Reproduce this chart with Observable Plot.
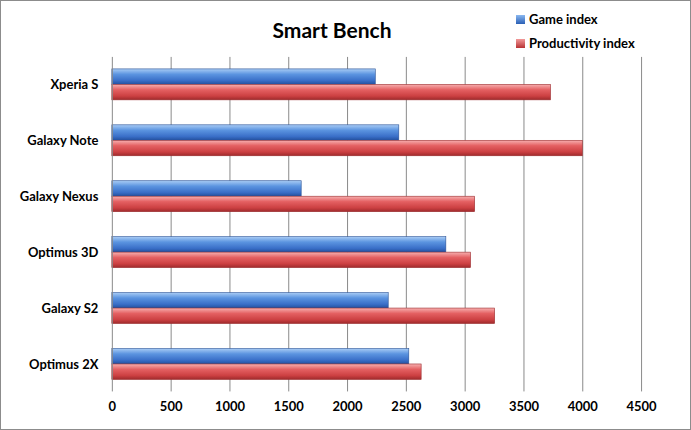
<!DOCTYPE html>
<html><head><meta charset="utf-8">
<script src="https://cdn.jsdelivr.net/npm/d3@7"></script>
<script src="https://cdn.jsdelivr.net/npm/@observablehq/plot@0.6"></script>
<style>
body{margin:0;font-family:Lato,"Open Sans",sans-serif;}
#wrap{position:relative;width:689px;height:428px;border:1px solid #8c8c8c;background:#fff;}
#title{position:absolute;left:0;width:662px;top:16px;text-align:center;font-weight:bold;font-size:21px;color:#000;}
.leg{position:absolute;left:515px;font-size:13px;font-weight:bold;display:flex;align-items:center;}
.leg span{display:inline-block;width:9px;height:9px;margin-right:4px;}
#chart{position:absolute;left:-1px;top:-1px;}
</style></head><body>
<div id="wrap">
<div id="chart"></div>
<div id="title">Smart Bench</div>
<div class="leg" style="top:10px"><span style="background:linear-gradient(#8ab8f0,#2a5fb5)"></span>Game index</div>
<div class="leg" style="top:34px"><span style="background:linear-gradient(#f29a9a,#b83234)"></span>Productivity index</div>
</div>
<script>
const categories = ["Xperia S","Galaxy Note","Galaxy Nexus","Optimus 3D","Galaxy S2","Optimus 2X"];
const gameIndex = [2240, 2440, 1610, 2840, 2350, 2525];
const productivityIndex = [3730, 4000, 3085, 3050, 3255, 2630];
const xTicks = [0,500,1000,1500,2000,2500,3000,3500,4000,4500];

const game = categories.map((c,i)=>({cat:c, v:gameIndex[i]}));
const prod = categories.map((c,i)=>({cat:c, v:productivityIndex[i]}));

const chart = Plot.plot({
  width: 691, height: 430,
  marginLeft: 112, marginRight: 49, marginTop: 57, marginBottom: 38,
  style: {fontFamily: "Lato, 'Open Sans', sans-serif", fontSize: "13px", fontWeight: "bold", color: "#000", background: "transparent"},
  x: {domain: [0, 4500], ticks: xTicks, tickFormat: d => String(d), tickSize: 0, tickPadding: 10, label: null},
  y: {domain: categories, paddingInner: 0.44, paddingOuter: 0.2, tickSize: 0, tickPadding: 14, label: null},
  marks: [
    Plot.ruleX(xTicks.slice(1), {stroke: "#8a8a8a", strokeOpacity: 1}),
    Plot.barX(game, {x: "v", y: "cat", fill: "url(#gBlue)", stroke: "#2a5296", strokeWidth: 0.6, insetBottom: 15.5}),
    Plot.barX(prod, {x: "v", y: "cat", fill: "url(#gRed)", stroke: "#9a2b2d", strokeWidth: 0.6, insetTop: 15.5}),
    Plot.ruleX([0], {stroke: "#8a8a8a"})
  ]
});
const svg = d3.select(chart);
const defs = svg.insert("defs", ":first-child");
function grad(id, stops){
  const g = defs.append("linearGradient").attr("id", id).attr("x1",0).attr("y1",0).attr("x2",0).attr("y2",1);
  stops.forEach(([o,c])=>g.append("stop").attr("offset",o).attr("stop-color",c));
}
grad("gBlue", [[0,"#a9ccf5"],[0.35,"#5b94e0"],[0.75,"#3a6fc8"],[1,"#23509e"]]);
grad("gRed", [[0,"#f7b0b0"],[0.35,"#e46062"],[0.75,"#cc4042"],[1,"#9e2a2c"]]);
document.getElementById("chart").appendChild(chart);
</script>
</body></html>
